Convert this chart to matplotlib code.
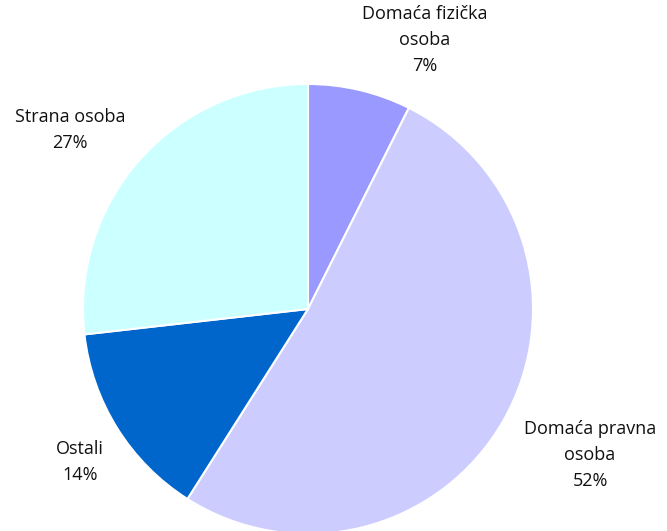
import matplotlib.pyplot as plt
import numpy as np

# slice data (clockwise from 12 o'clock)
labels = ['Domaća fizička\nosoba', 'Domaća pravna\nosoba', 'Ostali', 'Strana osoba']
shares = [7.4, 51.6, 14.2, 26.8]
colors = ['#9999FF', '#CCCCFF', '#0066CC', '#CCFFFF']

W, H = 667, 531
fig = plt.figure(figsize=(W / 100, H / 100), dpi=100)
ax = fig.add_axes([0, 0, 1, 1])

cx, cy, r = 308, H - 309, 225
wedges, _ = ax.pie(shares, colors=colors, startangle=90, counterclock=False,
                   center=(cx, cy), radius=r, frame=True,
                   wedgeprops=dict(edgecolor='white', linewidth=1.5))
ax.set_xlim(0, W)
ax.set_ylim(0, H)
ax.set_aspect('equal')
ax.axis('off')

# label anchor points in pixels (top-left origin)
label_xy = [(425, 40), (590, 455), (80, 462), (70, 130)]
for lab, v, (x, y) in zip(labels, shares, label_xy):
    ax.text(x, H - y, f"{lab}\n{v:.0f}%", ha='center', va='center',
            fontsize=13, family='Open Sans', color='#111111', linespacing=1.6)

fig.savefig('out.png', dpi=100)
